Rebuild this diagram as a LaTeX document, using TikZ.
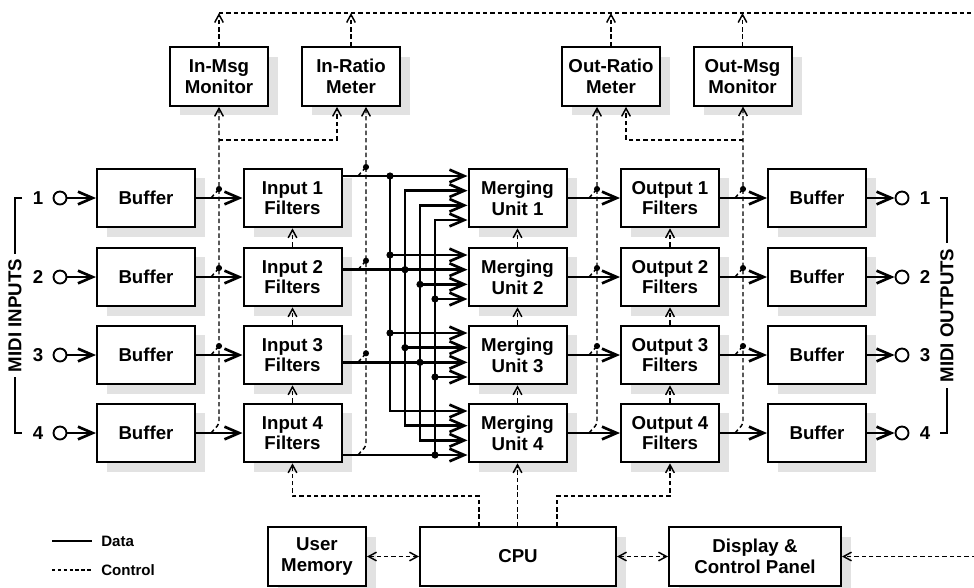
\documentclass[tikz,border=0pt]{standalone}
\usepackage{fontspec}
\setmainfont{Liberation Sans}
\usetikzlibrary{arrows.meta,shadows,calc}
\definecolor{shadowgray}{HTML}{E2E2E2}
\tikzset{
  box/.style={draw, line width=1.5pt, fill=white, minimum width=73.5pt, minimum height=44pt,
    inner sep=0pt, align=center, font=\fontsize{14}{15.5}\selectfont\bfseries,
    general shadow={fill=shadowgray, shadow xshift=7.5pt, shadow yshift=-7pt}},
  data/.style={line width=2pt, >={Straight Barb[length=11pt,width=9.5pt]}},
  ctrl/.style={line width=1.1pt, dash pattern=on 3.3pt off 2.2pt, >={Straight Barb[length=6pt,width=6.5pt]}},
  port/.style={draw, circle, line width=1.4pt, minimum size=9.75pt, inner sep=0pt, fill=white},
  lbl/.style={font=\fontsize{14}{15.5}\selectfont\bfseries, inner sep=0pt},
  legtext/.style={font=\fontsize{11.3}{13}\selectfont\bfseries, inner sep=0pt, anchor=west},
  bracket/.style={line width=0.8pt}
}
\begin{document}
\begin{tikzpicture}[x=0.75pt,y=-0.75pt]
\useasboundingbox (0,0) rectangle (974,587);

% ---------- main rows ----------
\foreach \i/\r in {1/198, 2/277, 3/355, 4/433} {
  \node[box] (buf\i) at (146,\r) {Buffer};
  \node[box] (inf\i) at (292.5,\r) {Input \i\\Filters};
  \node[box] (mu\i) at (517.5,\r) {Merging\\Unit \i};
  \node[box] (outf\i) at (670,\r) {Output \i\\Filters};
  \node[box] (obuf\i) at (817,\r) {Buffer};
  \node[port] (pin\i) at (60,\r) {};
  \node[port] (pout\i) at (902,\r) {};
  \node[lbl] (nin\i) at (38,\r) {\i};
  \node[lbl] (nout\i) at (925,\r) {\i};
}

% ---------- monitors ----------
\node[box] (imm) at (219,76.5) {In-Msg\\Monitor};
\node[box] (irm) at (351,76.5) {In-Ratio\\Meter};
\node[box] (orm) at (611,76.5) {Out-Ratio\\Meter};
\node[box] (omm) at (742.5,76.5) {Out-Msg\\Monitor};

% ---------- bottom ----------
\node[box] (umem) at (317,556.5) {User\\Memory};
\node[box, minimum width=147pt] (cpu) at (518,556.5) {CPU};
\node[box, minimum width=129pt] (disp) at (755,556.5) {Display \&\\Control Panel};

% ---------- bus coordinates ----------
\foreach \j/\bx/\o in {1/390/-22, 2/405/-7.33, 3/420/7.33, 4/435/22} {
  \foreach \i/\r in {1/198, 2/277, 3/355, 4/433} {
    \coordinate (b\j\i) at (\bx,{\r+(\o)});
  }
}

% ---------- data paths ----------
\foreach \i in {1,...,4} {
  \draw[data,->] (pin\i) -- (buf\i);
  \draw[data,->] (buf\i) -- (inf\i);
  \draw[data,->] (inf\i.east |- b\i\i) -- (mu\i.west |- b\i\i);
  \draw[data,->] (mu\i) -- (outf\i);
  \draw[data,->] (outf\i) -- (obuf\i);
  \draw[data,->] (obuf\i) -- (pout\i);
}
\draw[data,->] (b11) -- (b14) -- (mu4.west |- b14);
\draw[data,<->] (mu1.west |- b21) -- (b21) -- (b24) -- (mu4.west |- b24);
\draw[data,<->] (mu1.west |- b31) -- (b31) -- (b34) -- (mu4.west |- b34);
\draw[data,<-] (mu1.west |- b41) -- (b41) -- (b44);
\foreach \j/\i in {1/2, 1/3, 2/3, 3/2, 4/2, 4/3} {
  \draw[data,->] (b\j\i) -- (mu\i.west |- b\j\i);
}
\foreach \j/\i in {1/1, 1/2, 1/3, 2/2, 2/3, 3/2, 3/3, 4/2, 4/3, 4/4} {
  \fill (b\j\i) circle (2.7pt);
}

% ---------- monitor taps ----------
% bus A: buffer outputs -> In-Msg Monitor
\foreach \i/\r in {1/198, 2/277, 3/355} {
  \draw[ctrl] (211,\r) -- (219,{\r-9});
  \fill (219,{\r-9}) circle (2.3pt);
}
\draw[ctrl,->,rounded corners=2pt] (211,433) -- (219,424) -- (imm.south);
\draw[ctrl,->] (219,140) -- (337,140) -- ($(irm.south)+(-14,0)$);
% bus B: input filter outputs -> In-Ratio Meter
\foreach \i/\r in {1/176, 2/269.7, 3/362.3} {
  \draw[ctrl] (358,\r) -- (366,{\r-9});
  \fill (366,{\r-9}) circle (2.3pt);
}
\draw[ctrl,->,rounded corners=2pt] (358,455) -- (366,446) -- ($(irm.south)+(15,0)$);
% bus C: merging outputs -> Out-Ratio Meter
\foreach \i/\r in {1/198, 2/277, 3/355} {
  \draw[ctrl] (589,\r) -- (597,{\r-9});
  \fill (597,{\r-9}) circle (2.3pt);
}
\draw[ctrl,->,rounded corners=2pt] (589,433) -- (597,424) -- ($(orm.south)+(-14,0)$);
% bus D: output filter outputs -> Out-Msg Monitor
\foreach \i/\r in {1/198, 2/277, 3/355} {
  \draw[ctrl] (735,\r) -- (743,{\r-9});
  \fill (743,{\r-9}) circle (2.3pt);
}
\draw[ctrl,->,rounded corners=2pt] (735,433) -- (743,424) -- (743,106.5);
\draw[ctrl,->] (743,140) -- (626,140) -- ($(orm.south)+(15,0)$);

% ---------- monitor outputs to top line ----------
\coordinate (topL) at (219,13);
\coordinate (topR) at (976,13);
\draw[ctrl] (topL) -- (topR);
\draw[ctrl,->] (imm.north) -- (imm.north |- topL);
\draw[ctrl,->] (irm.north) -- (irm.north |- topL);
\draw[ctrl,->] (orm.north) -- (orm.north |- topL);
\draw[ctrl,->] (omm.north) -- (omm.north |- topL);

% ---------- CPU control ----------
\draw[ctrl,->] ($(cpu.north)+(-39,0)$) -- ++(0,-30) -| (inf4.south);
\draw[ctrl,->] (cpu.north -| mu4.south) -- (mu4.south);
\draw[ctrl,->] ($(cpu.north)+(39,0)$) -- ++(0,-30) -| (outf4.south);
\foreach \a/\b in {4/3, 3/2, 2/1} {
  \draw[ctrl,->] (inf\a.north) -- (inf\b.south);
  \draw[ctrl,->] (mu\a.north) -- (mu\b.south);
  \draw[ctrl,->] (outf\a.north) -- (outf\b.south);
}
\draw[ctrl,<->] (umem) -- (cpu);
\draw[ctrl,<->] (cpu) -- (disp);
\coordinate (botR) at (976,556.5);
\draw[ctrl,->] (botR) -- (disp.east);

% ---------- brackets ----------
\draw[bracket] (22,198) -- (15,198) -- (15,433) -- (22,433);
\node[lbl, rotate=90, fill=white, inner sep=4pt] (midiin) at (15,315.5) {MIDI INPUTS};
\draw[bracket] (940,198) -- (947,198) -- (947,433) -- (940,433);
\node[lbl, rotate=90, fill=white, inner sep=4pt] (midiout) at (947,315.5) {MIDI OUTPUTS};

% ---------- legend ----------
\coordinate (ld1) at (52,541);
\coordinate (ld2) at (92,541);
\coordinate (lc1) at (52,570);
\coordinate (lc2) at (92,570);
\draw[line width=2pt] (ld1) -- (ld2);
\draw[line width=0.8pt, dash pattern=on 2.6pt off 1.8pt] (lc1) -- (lc2);
\node[legtext] (legd) at (101,541) {Data};
\node[legtext] (legc) at (101,570) {Control};
\end{tikzpicture}
\end{document}
